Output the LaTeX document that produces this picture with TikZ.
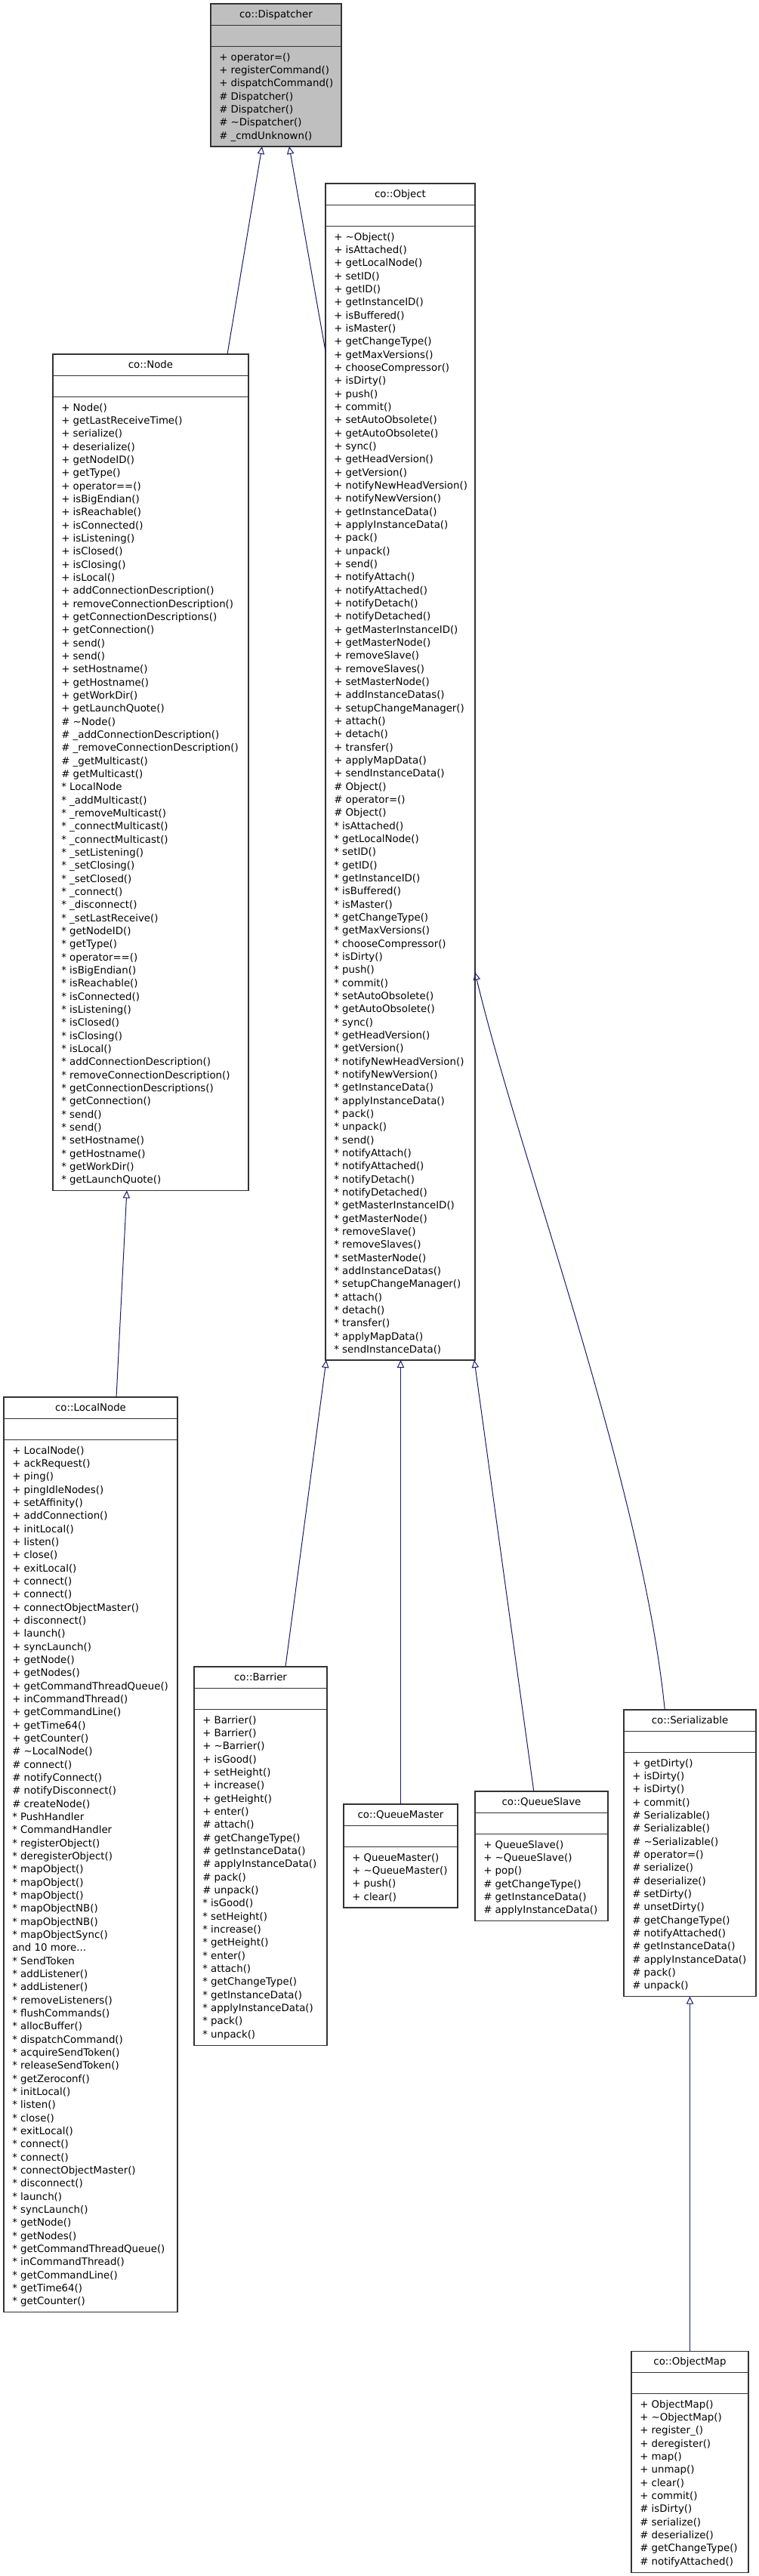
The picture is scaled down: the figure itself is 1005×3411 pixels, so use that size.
\documentclass[tikz,border=0pt]{standalone}
\usepackage{fontspec}
\setmainfont{DejaVu Sans}
\usetikzlibrary{arrows.meta,fit,calc}
\definecolor{midnight}{HTML}{191970}
\definecolor{greyfill}{HTML}{BFBFBF}
\newcommand{\tldx}{\textasciitilde}
\newcommand{\sx}{\relax*}
% #1 fill, #2 name, #3 left, #4 top, #5 right, #6 bottom, #7 title, #8 members
\newcommand{\umlclass}[8][white]{%
  \node[classbox, fill=#1, fit={(#3,#4) (#5,#6)}] (#2) {};
  \draw[sepline] ([yshift=-21.4pt]#2.north west) -- ([yshift=-21.4pt]#2.north east);
  \draw[sepline] ([yshift=-42.4pt]#2.north west) -- ([yshift=-42.4pt]#2.north east);
  \node[titletext] (#2-title) at ([yshift=-13.875pt]#2.north) {#7};
  \node[membertext] (#2-members) at ([xshift=8.25pt,yshift=-47.15pt]#2.north west)
    {\begin{tabular}[t]{@{}l@{}}#8\end{tabular}};
}
\begin{document}
\begin{tikzpicture}[x=0.75pt,y=-0.75pt,
  classbox/.style={draw=black!80, line width=0.8pt, inner sep=0pt, outer sep=0pt},
  sepline/.style={draw=black!80, line width=0.8pt},
  titletext/.style={anchor=base, inner sep=0pt, font=\fontsize{10}{13}\selectfont},
  membertext/.style={anchor=north west, inner sep=0pt, font=\fontsize{10}{13}\selectfont},
  inh/.style={draw=midnight, line width=0.75pt, -{Triangle[open, length=7.5pt, width=7pt]}}]
\useasboundingbox (0,0) rectangle (1005,3411);
\fill[white] (0,0) rectangle (1005,3411);

\umlclass[greyfill]{disp}{279}{5}{452}{194}{co::Dispatcher}{%
+ operator=()\\
+ registerCommand()\\
+ dispatchCommand()\\
\# Dispatcher()\\
\# Dispatcher()\\
\# \tldx Dispatcher()\\
\# \_cmdUnknown()}

\umlclass{obj}{431}{243}{629}{1801}{co::Object}{%
+ \tldx Object()\\
+ isAttached()\\
+ getLocalNode()\\
+ setID()\\
+ getID()\\
+ getInstanceID()\\
+ isBuffered()\\
+ isMaster()\\
+ getChangeType()\\
+ getMaxVersions()\\
+ chooseCompressor()\\
+ isDirty()\\
+ push()\\
+ commit()\\
+ setAutoObsolete()\\
+ getAutoObsolete()\\
+ sync()\\
+ getHeadVersion()\\
+ getVersion()\\
+ notifyNewHeadVersion()\\
+ notifyNewVersion()\\
+ getInstanceData()\\
+ applyInstanceData()\\
+ pack()\\
+ unpack()\\
+ send()\\
+ notifyAttach()\\
+ notifyAttached()\\
+ notifyDetach()\\
+ notifyDetached()\\
+ getMasterInstanceID()\\
+ getMasterNode()\\
+ removeSlave()\\
+ removeSlaves()\\
+ setMasterNode()\\
+ addInstanceDatas()\\
+ setupChangeManager()\\
+ attach()\\
+ detach()\\
+ transfer()\\
+ applyMapData()\\
+ sendInstanceData()\\
\# Object()\\
\# operator=()\\
\# Object()\\
\sx{} isAttached()\\
\sx{} getLocalNode()\\
\sx{} setID()\\
\sx{} getID()\\
\sx{} getInstanceID()\\
\sx{} isBuffered()\\
\sx{} isMaster()\\
\sx{} getChangeType()\\
\sx{} getMaxVersions()\\
\sx{} chooseCompressor()\\
\sx{} isDirty()\\
\sx{} push()\\
\sx{} commit()\\
\sx{} setAutoObsolete()\\
\sx{} getAutoObsolete()\\
\sx{} sync()\\
\sx{} getHeadVersion()\\
\sx{} getVersion()\\
\sx{} notifyNewHeadVersion()\\
\sx{} notifyNewVersion()\\
\sx{} getInstanceData()\\
\sx{} applyInstanceData()\\
\sx{} pack()\\
\sx{} unpack()\\
\sx{} send()\\
\sx{} notifyAttach()\\
\sx{} notifyAttached()\\
\sx{} notifyDetach()\\
\sx{} notifyDetached()\\
\sx{} getMasterInstanceID()\\
\sx{} getMasterNode()\\
\sx{} removeSlave()\\
\sx{} removeSlaves()\\
\sx{} setMasterNode()\\
\sx{} addInstanceDatas()\\
\sx{} setupChangeManager()\\
\sx{} attach()\\
\sx{} detach()\\
\sx{} transfer()\\
\sx{} applyMapData()\\
\sx{} sendInstanceData()}

\umlclass{node}{70}{469}{329}{1576.5}{co::Node}{%
+ Node()\\
+ getLastReceiveTime()\\
+ serialize()\\
+ deserialize()\\
+ getNodeID()\\
+ getType()\\
+ operator==()\\
+ isBigEndian()\\
+ isReachable()\\
+ isConnected()\\
+ isListening()\\
+ isClosed()\\
+ isClosing()\\
+ isLocal()\\
+ addConnectionDescription()\\
+ removeConnectionDescription()\\
+ getConnectionDescriptions()\\
+ getConnection()\\
+ send()\\
+ send()\\
+ setHostname()\\
+ getHostname()\\
+ getWorkDir()\\
+ getLaunchQuote()\\
\# \tldx Node()\\
\# \_addConnectionDescription()\\
\# \_removeConnectionDescription()\\
\# \_getMulticast()\\
\# getMulticast()\\
\sx{} LocalNode\\
\sx{} \_addMulticast()\\
\sx{} \_removeMulticast()\\
\sx{} \_connectMulticast()\\
\sx{} \_connectMulticast()\\
\sx{} \_setListening()\\
\sx{} \_setClosing()\\
\sx{} \_setClosed()\\
\sx{} \_connect()\\
\sx{} \_disconnect()\\
\sx{} \_setLastReceive()\\
\sx{} getNodeID()\\
\sx{} getType()\\
\sx{} operator==()\\
\sx{} isBigEndian()\\
\sx{} isReachable()\\
\sx{} isConnected()\\
\sx{} isListening()\\
\sx{} isClosed()\\
\sx{} isClosing()\\
\sx{} isLocal()\\
\sx{} addConnectionDescription()\\
\sx{} removeConnectionDescription()\\
\sx{} getConnectionDescriptions()\\
\sx{} getConnection()\\
\sx{} send()\\
\sx{} send()\\
\sx{} setHostname()\\
\sx{} getHostname()\\
\sx{} getWorkDir()\\
\sx{} getLaunchQuote()}

\umlclass{lnode}{5}{1850}{235}{3061.5}{co::LocalNode}{%
+ LocalNode()\\
+ ackRequest()\\
+ ping()\\
+ pingIdleNodes()\\
+ setAffinity()\\
+ addConnection()\\
+ initLocal()\\
+ listen()\\
+ close()\\
+ exitLocal()\\
+ connect()\\
+ connect()\\
+ connectObjectMaster()\\
+ disconnect()\\
+ launch()\\
+ syncLaunch()\\
+ getNode()\\
+ getNodes()\\
+ getCommandThreadQueue()\\
+ inCommandThread()\\
+ getCommandLine()\\
+ getTime64()\\
+ getCounter()\\
\# \tldx LocalNode()\\
\# connect()\\
\# notifyConnect()\\
\# notifyDisconnect()\\
\# createNode()\\
\sx{} PushHandler\\
\sx{} CommandHandler\\
\sx{} registerObject()\\
\sx{} deregisterObject()\\
\sx{} mapObject()\\
\sx{} mapObject()\\
\sx{} mapObject()\\
\sx{} mapObjectNB()\\
\sx{} mapObjectNB()\\
\sx{} mapObjectSync()\\
and 10 more...\\
\sx{} SendToken\\
\sx{} addListener()\\
\sx{} addListener()\\
\sx{} removeListeners()\\
\sx{} flushCommands()\\
\sx{} allocBuffer()\\
\sx{} dispatchCommand()\\
\sx{} acquireSendToken()\\
\sx{} releaseSendToken()\\
\sx{} getZeroconf()\\
\sx{} initLocal()\\
\sx{} listen()\\
\sx{} close()\\
\sx{} exitLocal()\\
\sx{} connect()\\
\sx{} connect()\\
\sx{} connectObjectMaster()\\
\sx{} disconnect()\\
\sx{} launch()\\
\sx{} syncLaunch()\\
\sx{} getNode()\\
\sx{} getNodes()\\
\sx{} getCommandThreadQueue()\\
\sx{} inCommandThread()\\
\sx{} getCommandLine()\\
\sx{} getTime64()\\
\sx{} getCounter()}

\umlclass{barrier}{257}{2207}{433}{2708}{co::Barrier}{%
+ Barrier()\\
+ Barrier()\\
+ \tldx Barrier()\\
+ isGood()\\
+ setHeight()\\
+ increase()\\
+ getHeight()\\
+ enter()\\
\# attach()\\
\# getChangeType()\\
\# getInstanceData()\\
\# applyInstanceData()\\
\# pack()\\
\# unpack()\\
\sx{} isGood()\\
\sx{} setHeight()\\
\sx{} increase()\\
\sx{} getHeight()\\
\sx{} enter()\\
\sx{} attach()\\
\sx{} getChangeType()\\
\sx{} getInstanceData()\\
\sx{} applyInstanceData()\\
\sx{} pack()\\
\sx{} unpack()}

\umlclass{qmaster}{455}{2389}{606}{2526}{co::QueueMaster}{%
+ QueueMaster()\\
+ \tldx QueueMaster()\\
+ push()\\
+ clear()}

\umlclass{qslave}{629}{2372}{805}{2543.7}{co::QueueSlave}{%
+ QueueSlave()\\
+ \tldx QueueSlave()\\
+ pop()\\
\# getChangeType()\\
\# getInstanceData()\\
\# applyInstanceData()}

\umlclass{ser}{826}{2264}{1001}{2643.6}{co::Serializable}{%
+ getDirty()\\
+ isDirty()\\
+ isDirty()\\
+ commit()\\
\# Serializable()\\
\# Serializable()\\
\# \tldx Serializable()\\
\# operator=()\\
\# serialize()\\
\# deserialize()\\
\# setDirty()\\
\# unsetDirty()\\
\# getChangeType()\\
\# notifyAttached()\\
\# getInstanceData()\\
\# applyInstanceData()\\
\# pack()\\
\# unpack()}

\umlclass{omap}{836}{3113}{991}{3406}{co::ObjectMap}{%
+ ObjectMap()\\
+ \tldx ObjectMap()\\
+ register\_()\\
+ deregister()\\
+ map()\\
+ unmap()\\
+ clear()\\
+ commit()\\
\# isDirty()\\
\# serialize()\\
\# deserialize()\\
\# getChangeType()\\
\# notifyAttached()}

% inheritance connectors (child -> parent)
\draw[inh] ($(node.north west)!0.892!(node.north east)$) -- ($(disp.south west)!0.393!(disp.south east)$);
\draw[inh] ($(obj.north west)!0.1426!(obj.south west)$) -- ($(disp.south west)!0.601!(disp.south east)$);
\draw[inh] ($(lnode.north west)!0.648!(lnode.north east)$) -- ($(node.south west)!0.378!(node.south east)$);
\draw[inh] ($(barrier.north west)!0.6875!(barrier.north east)$) -- ($(obj.south west)!0.005!(obj.south east)$);
\draw[inh] (qmaster.north) -- (qmaster.north |- obj.south);
\draw[inh] ($(qslave.north west)!0.442!(qslave.north east)$) -- ($(obj.south west)!0.995!(obj.south east)$);
\draw[inh] ($(ser.north west)!0.31!(ser.north east)$) .. controls +(-30,-300) and +(60,250) .. ($(obj.north east)!0.6705!(obj.south east)$);
\draw[inh] (omap.north) -- (omap.north |- ser.south);
\end{tikzpicture}
\end{document}
